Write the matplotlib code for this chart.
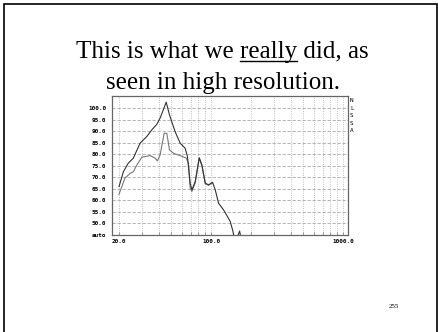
import numpy as np
import matplotlib
matplotlib.use("Agg")
import matplotlib.pyplot as plt
from matplotlib.patches import Rectangle
from matplotlib.lines import Line2D

# upper (dark) trace
x_up = [20, 21.6, 23.5, 25.7, 28.9, 32.5, 35.5, 38.7, 41.0, 45.6, 48.3, 53.3, 58.2,
        63.5, 66.1, 69.3, 71.4, 75.7, 81.2, 85.1, 90.2, 95.5, 102.5, 107.4, 113.8,
        124.2, 131.8, 139.7, 146.4, 148.0, np.nan, 160.0, 164.4, 166.5]
y_up = [65.9, 72.4, 76.1, 78.3, 84.8, 87.7, 90.6, 93.0, 95.7, 102.6, 97.1, 89.8, 84.8,
        82.6, 79.0, 67.4, 64.5, 68.1, 78.5, 75.3, 67.4, 66.7, 67.8, 64.5, 58.7,
        55.8, 53.3, 50.7, 46.4, 44.9, np.nan, 44.9, 46.6, 44.9]

# lower (grey) trace
x_lo = [20, 22.2, 24.3, 25.7, 27.3, 29.8, 34.4, 37.6, 39.1, 41.0, 44.0, 46.1, 48.3,
        51.8, 58.2, 64.7, 67.3, 69.3, 71.4, 75.7, 81.2, 85.1, 90.2, 95.5, 102.5]
y_lo = [62.6, 69.6, 71.7, 72.4, 75.3, 78.7, 79.4, 78.3, 77.1, 79.7, 89.1, 89.1, 81.9,
        80.4, 79.4, 78.3, 76.1, 65.2, 63.8, 67.6, 78.2, 75.0, 67.2, 66.5, 67.6]

y_ticks = [45, 50, 55, 60, 65, 70, 75, 80, 85, 90, 95, 100]
y_labels = ["auto", "50.0", "55.0", "60.0", "65.0", "70.0", "75.0", "80.0",
            "85.0", "90.0", "95.0", "100.0"]
x_ticks = [20, 100, 1000]
x_labels = ["20.0", "100.0", "1000.0"]
side_letters = ["N", "L", "S", "S", "A"]

W, H = 439, 332
fig = plt.figure(figsize=(W / 100, H / 100), dpi=100)

# slide border
fig.add_artist(Rectangle((4.5 / W, -0.02), (437 - 4.5) / W, 1.02 - 4.5 / H,
                         transform=fig.transFigure, fill=False, lw=1.2, ec="black"))

serif = "Liberation Serif"
mono = "DejaVu Sans Mono"

line1 = fig.text(0.506, 1 - 58 / H, "This is what we really did, as", ha="center",
                 va="baseline", fontsize=18, family=serif)
fig.text(0.508, 1 - 89 / H, "seen in high resolution.", ha="center",
         va="baseline", fontsize=18, family=serif)
fig.text(394 / W, 1 - 306 / H, "255", ha="center", va="center", fontsize=5, family=serif)

ax = fig.add_axes([112 / W, (H - 235) / H, 236 / W, 139 / H])
ax.plot(x_lo, y_lo, color="#777777", lw=0.8)
ax.plot(x_up, y_up, color="#333333", lw=0.8)
ax.set_xscale("log")
ax.set_xlim(17.7, 1091)
ax.set_ylim(44.9, 105.3)

ax.set_xticks(x_ticks)
ax.set_xticklabels(x_labels)
ax.set_xticks([30, 40, 50, 60, 70, 80, 90, 200, 300, 400, 500, 600, 700, 800, 900],
              minor=True)
ax.set_xticklabels([], minor=True)
ax.set_yticks(y_ticks)
ax.set_yticklabels(y_labels)

for lab in ax.get_xticklabels() + ax.get_yticklabels():
    lab.set_fontfamily(mono)
    lab.set_fontsize(4.3)
    lab.set_fontweight("bold")

ax.tick_params(axis="x", which="both", direction="in", length=2, width=0.5,
               color="#777777", pad=3)
ax.tick_params(axis="y", direction="in", length=0, pad=4)
ax.grid(axis="x", which="both", color="#aaaaaa", lw=0.6, ls=":")
ax.grid(axis="y", which="major", color="#aaaaaa", lw=0.6, ls=(0, (4, 2)))
for s in ax.spines.values():
    s.set_color("#666666")
    s.set_linewidth(0.9)

for i, ch in enumerate(side_letters):
    fig.text(351.7 / W, 1 - (101 + i * 7.4) / H, ch, ha="center", va="center",
             fontsize=4.3, family=mono)

# underline "really"
fig.canvas.draw()
r = fig.canvas.get_renderer()
bb = line1.get_window_extent(r)
t1 = fig.text(0, 0, "This is what we really", fontsize=18, family=serif)
t2 = fig.text(0, 0, "really", fontsize=18, family=serif)
w1 = t1.get_window_extent(r).width
w2 = t2.get_window_extent(r).width
t1.remove()
t2.remove()
x0 = (bb.x0 + w1 - w2) / W
x1 = (bb.x0 + w1) / W
fig.add_artist(Line2D([x0, x1], [1 - 61 / H, 1 - 61 / H], transform=fig.transFigure,
                      color="black", lw=1.0))

fig.savefig("out.png", dpi=100)
